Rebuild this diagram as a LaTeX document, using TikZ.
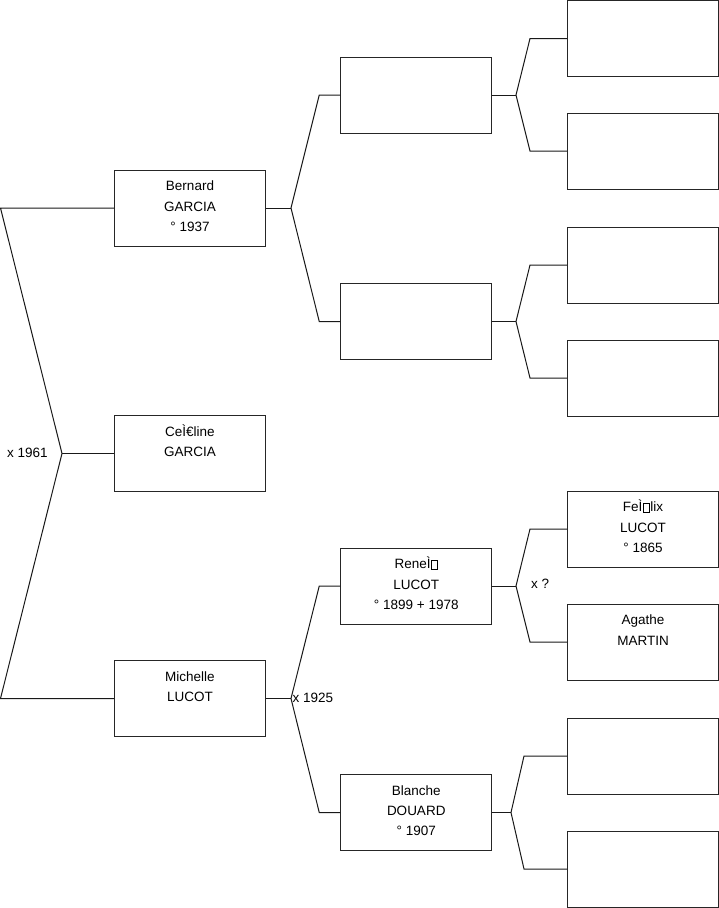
\documentclass[tikz,border=0pt]{standalone}
\usepackage{fontspec}
\setmainfont{Liberation Sans}
\newcommand{\nglyph}{\hspace{0.8pt}{\setlength{\fboxsep}{0pt}\setlength{\fboxrule}{0.6pt}\fbox{\rule{0pt}{8.2pt}\hspace{5.4pt}}}\hspace{0.8pt}}
\newcommand{\person}[4]{%
  \node[box] (#1) at (#2,#3) {};
  \node[txt] (#1t) at ([yshift=-9pt]#1.north) {\rule{0pt}{12pt}#4};}
\begin{document}
\begin{tikzpicture}[x=1pt,y=-1pt,
  box/.style={draw=black!85, line width=1pt, minimum width=151pt, minimum height=76pt, inner sep=0pt},
  txt/.style={anchor=north, align=center, inner sep=0pt, font=\fontsize{13.5}{20.3}\selectfont},
  conn/.style={draw=black!90, line width=1pt},
  lab/.style={anchor=base west, inner sep=0pt, font=\fontsize{13.5}{16}\selectfont}]
\path[use as bounding box] (0,0) rectangle (719,908);

% column 1
\person{bernard}{190}{208}{Bernard\\GARCIA\\° 1937}
\person{celine}{190}{453.5}{CeÌ€line\\GARCIA}
\person{michelle}{190}{698.5}{Michelle\\LUCOT}
% column 2
\person{p2a}{416.25}{95}{}
\person{p2b}{416.25}{321.5}{}
\person{rene}{416.25}{586}{ReneÌ\nglyph\\LUCOT\\° 1899 + 1978}
\person{blanche}{416.25}{812.5}{Blanche\\DOUARD\\° 1907}
% column 3
\person{p3a}{643}{38.5}{}
\person{p3b}{643}{151}{}
\person{p3c}{643}{265}{}
\person{p3d}{643}{378}{}
\person{felix}{643}{529}{FeÌ\nglyph lix\\LUCOT\\° 1865}
\person{agathe}{643}{642}{Agathe\\MARTIN}
\person{p3g}{643}{756}{}
\person{p3h}{643}{869}{}

% left fork
\coordinate (lt) at (0.5,208);
\coordinate (lb) at (0.5,698.5);
\coordinate (lm) at (62,453.5);
\draw[conn] (bernard.west) -- (lt) -- (lm) -- (lb) -- (michelle.west);
\draw[conn] (lm) -- (celine.west);
\node[lab] (l1961) at (7,457) {x 1961};

% forks col1 -> col2
\coordinate (fb) at (291,208);
\draw[conn] (bernard.east) -- (fb);
\draw[conn] (p2a.west) -- ([xshift=-21pt]p2a.west) -- (fb) -- ([xshift=-21pt]p2b.west) -- (p2b.west);
\coordinate (fm) at (291,698.5);
\draw[conn] (michelle.east) -- (fm);
\draw[conn] (rene.west) -- ([xshift=-21pt]rene.west) -- (fm) -- ([xshift=-21pt]blanche.west) -- (blanche.west);
\node[lab] (l1925) at (292.5,702) {x 1925};

% forks col2 -> col3
\coordinate (f2a) at (516,95);
\draw[conn] (p2a.east) -- (f2a);
\draw[conn] (p3a.west) -- ([xshift=-37pt]p3a.west) -- (f2a) -- ([xshift=-37pt]p3b.west) -- (p3b.west);
\coordinate (f2b) at (516,321.5);
\draw[conn] (p2b.east) -- (f2b);
\draw[conn] (p3c.west) -- ([xshift=-37pt]p3c.west) -- (f2b) -- ([xshift=-37pt]p3d.west) -- (p3d.west);
\coordinate (f2c) at (516,586);
\draw[conn] (rene.east) -- (f2c);
\draw[conn] (felix.west) -- ([xshift=-37pt]felix.west) -- (f2c) -- ([xshift=-37pt]agathe.west) -- (agathe.west);
\node[lab] (lq) at (531,588) {x ?};
\coordinate (f2d) at (511,812.5);
\draw[conn] (blanche.east) -- (f2d);
\draw[conn] (p3g.west) -- ([xshift=-43pt]p3g.west) -- (f2d) -- ([xshift=-43pt]p3h.west) -- (p3h.west);
\end{tikzpicture}
\end{document}
